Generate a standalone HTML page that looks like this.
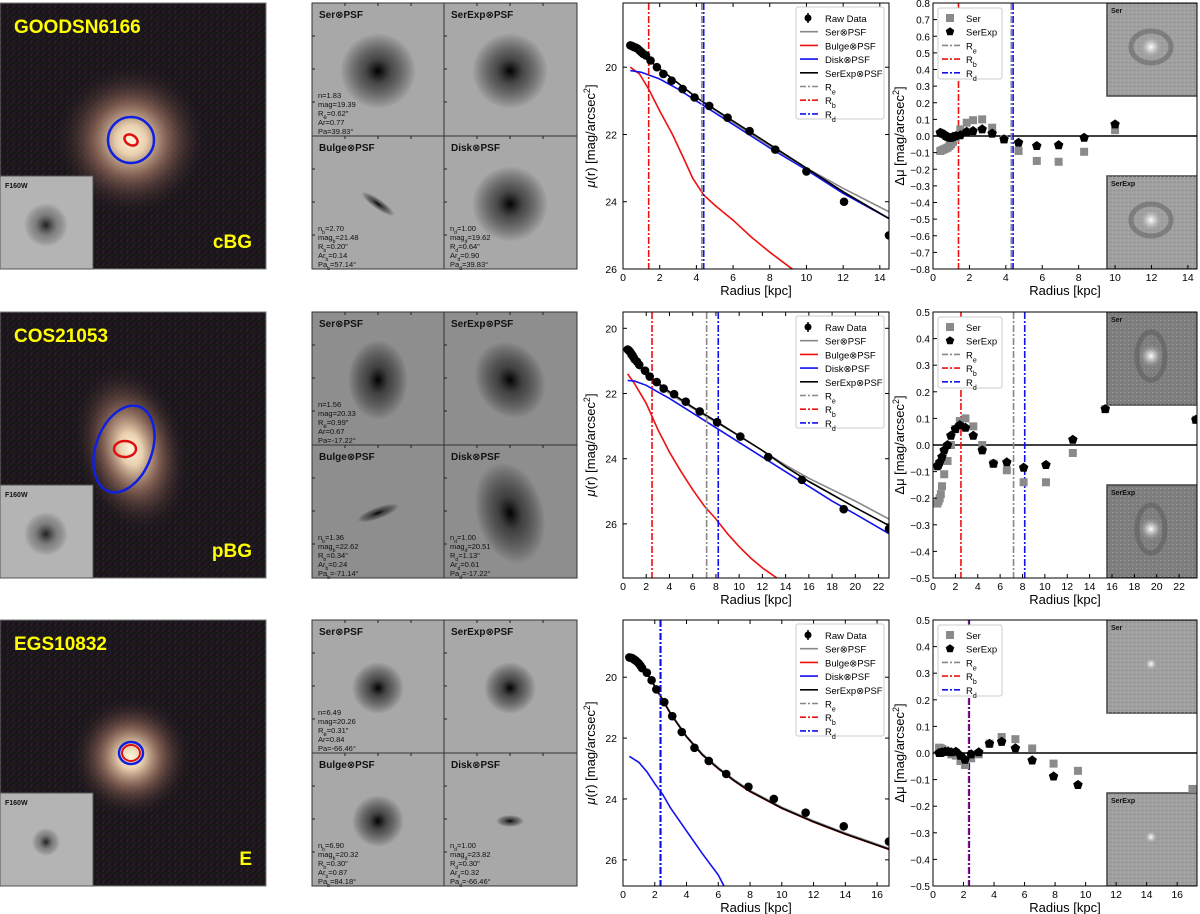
<!DOCTYPE html>
<html><head><meta charset="utf-8"><style>
body{margin:0;background:#fff;}
svg{display:block;font-family:"Liberation Sans","DejaVu Sans",sans-serif;}
</style></head><body>
<svg id="fig" width="1200" height="914" viewBox="0 0 1200 914" xmlns="http://www.w3.org/2000/svg">
<defs>
<radialGradient id="glow1"><stop offset="0" stop-color="#fff6dc"/><stop offset="0.2" stop-color="#e8cfae"/><stop offset="0.5" stop-color="#9a7060" stop-opacity="0.75"/><stop offset="1" stop-color="#2a1a20" stop-opacity="0"/></radialGradient>
<radialGradient id="blobDark"><stop offset="0" stop-color="#000"/><stop offset="0.35" stop-color="#222" stop-opacity="0.7"/><stop offset="1" stop-color="#000" stop-opacity="0"/></radialGradient>
<radialGradient id="blobSoft"><stop offset="0" stop-color="#111" stop-opacity="0.9"/><stop offset="0.5" stop-color="#333" stop-opacity="0.4"/><stop offset="1" stop-color="#000" stop-opacity="0"/></radialGradient>
<radialGradient id="resBlob"><stop offset="0" stop-color="#fff"/><stop offset="0.4" stop-color="#ddd" stop-opacity="0.6"/><stop offset="1" stop-color="#888" stop-opacity="0"/></radialGradient>
<pattern id="noise" width="6" height="6" patternUnits="userSpaceOnUse"><rect width="6" height="6" fill="#1b1519"/><rect x="0" y="0" width="2" height="2" fill="#2a1c26"/><rect x="3" y="2" width="2" height="2" fill="#152018"/><rect x="1" y="4" width="2" height="2" fill="#241c2c"/></pattern>
<pattern id="rnoise" width="4" height="4" patternUnits="userSpaceOnUse"><rect width="4" height="4" fill="none"/><rect x="0" y="0" width="1" height="1" fill="#bbb" opacity="0.5"/><rect x="2" y="2" width="1" height="1" fill="#666" opacity="0.4"/></pattern>
</defs>
</svg>
<script>
// ---------- data ----------
const row1Data=[[0.4,19.35],[0.5,19.37],[0.6,19.4],[0.7,19.42],[0.8,19.45],[0.9,19.5],[1.0,19.55],[1.1,19.6],[1.25,19.65],[1.5,19.8],[1.85,20.0],[2.2,20.2],[2.65,20.4],[3.25,20.65],[3.9,20.9],[4.7,21.15],[5.7,21.5],[6.9,21.9],[8.3,22.45],[10.0,23.1],[12.05,24.0],[14.5,25.0]];
const row1Ser=[[0.4,19.3],[2,20.05],[4,20.9],[6,21.65],[8,22.35],[10,23.0],[12,23.6],[14.5,24.3]];
const row1SerExp=[[0.4,19.35],[2,20.05],[4,20.9],[6,21.6],[8,22.3],[10,23.0],[12,23.7],[14.5,24.5]];
const row1Disk=[[0.4,20.1],[1,20.15],[2,20.35],[3,20.65],[4,21.0],[6,21.7],[8,22.4],[10,23.05],[12,23.75],[14.5,24.5]];
const row1Bulge=[[0.4,20.0],[0.9,20.2],[1.4,20.65],[2,21.3],[2.7,22.0],[3.3,22.7],[3.8,23.3],[4.4,23.8],[5,24.1],[6,24.55],[7,25.05],[8,25.5],[9.1,25.95],[9.5,26.1]];
const row1Radii=[4.3,1.4,4.4];
const row1ResSer=[[0.4,-0.09],[0.5,-0.085],[0.6,-0.08],[0.7,-0.075],[0.8,-0.07],[0.9,-0.06],[1.0,-0.05],[1.1,-0.035],[1.25,-0.01],[1.5,0.04],[1.85,0.08],[2.2,0.095],[2.7,0.1],[3.25,0.05],[3.9,-0.02],[4.7,-0.09],[5.7,-0.15],[6.9,-0.155],[8.3,-0.095],[10.0,0.035]];
const row1ResSerExp=[[0.4,0.02],[0.5,0.015],[0.6,0.01],[0.7,0.0],[0.8,-0.005],[0.9,-0.01],[1.0,-0.01],[1.1,-0.005],[1.25,0.0],[1.5,0.005],[1.85,0.025],[2.2,0.03],[2.7,0.04],[3.25,0.015],[3.9,-0.02],[4.7,-0.04],[5.7,-0.06],[6.9,-0.055],[8.3,-0.01],[10.0,0.07]];

const row2Data=[[0.4,20.65],[0.5,20.68],[0.6,20.72],[0.7,20.77],[0.8,20.82],[0.9,20.88],[1.0,20.95],[1.2,21.02],[1.4,21.12],[1.9,21.3],[2.3,21.48],[2.9,21.65],[3.5,21.85],[4.4,22.02],[5.4,22.25],[6.6,22.55],[8.1,22.88],[10.1,23.32],[12.5,23.95],[15.4,24.65],[19.0,25.55],[22.9,26.15]];
const row2Ser=[[0.4,20.85],[2,21.45],[4,22.0],[6,22.45],[8,22.88],[10,23.3],[12,23.75],[14,24.2],[16,24.6],[18,24.95],[20,25.3],[22.9,25.85]];
const row2SerExp=[[0.4,20.7],[2,21.4],[4,21.95],[6,22.42],[8,22.85],[10,23.3],[12,23.75],[14,24.25],[16,24.7],[18,25.1],[20,25.5],[22.9,26.05]];
const row2Disk=[[0.4,21.6],[1,21.62],[2,21.75],[3,21.95],[4,22.15],[6,22.6],[8,23.05],[10,23.5],[12,23.95],[14,24.4],[16,24.85],[18,25.3],[20,25.7],[22.9,26.3]];
const row2Bulge=[[0.4,21.4],[1,21.7],[2,22.3],[3,23.1],[4,23.8],[5,24.4],[6,24.95],[7,25.45],[8,25.85],[9,26.3],[10,26.7],[11,27.05],[12,27.35],[13.4,27.7]];
const row2Radii=[7.2,2.5,8.2];
const row2ResSer=[[0.4,-0.22],[0.5,-0.21],[0.6,-0.2],[0.7,-0.185],[0.8,-0.155],[1.0,-0.11],[1.3,-0.06],[1.6,0.0],[2.0,0.06],[2.4,0.09],[2.9,0.1],[3.6,0.07],[4.4,0.0],[5.4,-0.07],[6.6,-0.095],[8.1,-0.14],[10.1,-0.14],[12.5,-0.03],[15.4,0.135],[23.5,0.095]];
const row2ResSerExp=[[0.4,-0.08],[0.5,-0.075],[0.6,-0.065],[0.8,-0.045],[1.0,-0.02],[1.3,0.0],[1.6,0.035],[2.0,0.06],[2.4,0.075],[2.9,0.065],[3.6,0.035],[4.4,-0.02],[5.4,-0.07],[6.6,-0.065],[8.1,-0.085],[10.1,-0.075],[12.5,0.02],[15.4,0.135],[23.5,0.095]];

const row3Data=[[0.4,19.35],[0.5,19.36],[0.6,19.38],[0.7,19.42],[0.8,19.45],[0.9,19.5],[1.0,19.55],[1.1,19.62],[1.2,19.7],[1.5,19.85],[1.8,20.1],[2.1,20.4],[2.6,20.82],[3.1,21.28],[3.7,21.8],[4.5,22.32],[5.4,22.75],[6.5,23.18],[7.9,23.6],[9.5,24.0],[11.5,24.45],[13.9,24.9],[16.75,25.4]];
const row3Ser=[[0.4,19.33],[1,19.53],[1.5,19.83],[2,20.28],[2.5,20.73],[3,21.18],[4,21.93],[5,22.52],[6,22.97],[7,23.37],[8,23.72],[10,24.27],[12,24.72],[14,25.12],[16.75,25.62]];
const row3SerExp=[[0.4,19.35],[1,19.55],[1.5,19.85],[2,20.3],[2.5,20.75],[3,21.2],[4,21.95],[5,22.55],[6,23.0],[7,23.4],[8,23.75],[10,24.3],[12,24.75],[14,25.15],[16.75,25.65]];
const row3Disk=[[0.4,22.6],[1,22.8],[1.5,23.1],[2,23.5],[2.5,23.85],[3,24.3],[4,25.05],[5,25.8],[6,26.5],[6.4,26.9]];
const row3Bulge=[[0.4,19.35],[1,19.55],[1.5,19.86],[2,20.31],[2.5,20.76],[3,21.21],[4,21.96],[5,22.56],[6,23.01],[7,23.41],[8,23.76],[10,24.31],[12,24.76],[14,25.16],[16.75,25.66]];
const row3Radii=[2.33,2.35,2.38];
const row3ResSer=[[0.4,0.02],[0.5,0.018],[0.6,0.015],[0.8,0.01],[1.0,0.005],[1.2,-0.005],[1.5,-0.01],[1.8,-0.03],[2.1,-0.045],[2.5,-0.02],[3.0,-0.005],[3.7,0.035],[4.5,0.06],[5.4,0.052],[6.5,0.017],[7.9,-0.04],[9.5,-0.067],[17,-0.135]];
const row3ResSerExp=[[0.4,0.0],[0.5,0.0],[0.6,0.003],[0.8,0.005],[1.0,0.005],[1.2,0.003],[1.5,0.005],[1.8,-0.01],[2.1,-0.025],[2.5,-0.005],[3.0,0.003],[3.7,0.035],[4.5,0.042],[5.4,0.018],[6.5,-0.028],[7.9,-0.088],[9.5,-0.12]];

const galaxyNames=["GOODSN6166","COS21053","EGS10832"];
const galaxyClasses=["cBG","pBG","E"];
const serParams=[["n=1.83","mag=19.39","R<tspan baseline-shift='sub' font-size='6'>e</tspan>=0.62\"","Ar=0.77","Pa=39.83°"],["n=1.56","mag=20.33","R<tspan baseline-shift='sub' font-size='6'>e</tspan>=0.99\"","Ar=0.67","Pa=-17.22°"],["n=6.49","mag=20.26","R<tspan baseline-shift='sub' font-size='6'>e</tspan>=0.31\"","Ar=0.84","Pa=-66.46°"]];
const bulgeParams=[["2.70","21.48","0.20","0.14","57.14"],["1.36","22.62","0.34","0.24","-71.14"],["6.90","20.32","0.30","0.87","84.18"]];
const diskParams=[["1.00","19.62","0.64","0.90","39.83"],["1.00","20.51","1.13","0.61","-17.22"],["1.00","23.82","0.30","0.32","-66.46"]];

// ---------- layout ----------
const rows=[
 {top:3,data:row1Data,ser:row1Ser,serexp:row1SerExp,disk:row1Disk,bulge:row1Bulge,radii:row1Radii,rser:row1ResSer,rse:row1ResSerExp,
  pX:[0,14.5],pY:[18.09,26],pXt:[0,2,4,6,8,10,12,14],pYt:[20,22,24,26],rX:[0,14.5],rY:[-0.8,0.8],rXt:[0,2,4,6,8,10,12,14],resStep:0.1,bg:"#a8a8a8"},
 {top:312,data:row2Data,ser:row2Ser,serexp:row2SerExp,disk:row2Disk,bulge:row2Bulge,radii:row2Radii,rser:row2ResSer,rse:row2ResSerExp,
  pX:[0,22.9],pY:[19.5,27.66],pXt:[0,2,4,6,8,10,12,14,16,18,20,22],pYt:[20,22,24,26],rX:[0,23.6],rY:[-0.5,0.5],rXt:[0,2,4,6,8,10,12,14,16,18,20,22],resStep:0.1,bg:"#8e8e8e"},
 {top:620,data:row3Data,ser:row3Ser,serexp:row3SerExp,disk:row3Disk,bulge:row3Bulge,radii:row3Radii,rser:row3ResSer,rse:row3ResSerExp,
  pX:[0,16.75],pY:[18.12,26.86],pXt:[0,2,4,6,8,10,12,14,16],pYt:[20,22,24,26],rX:[0,17.3],rY:[-0.5,0.5],rXt:[0,2,4,6,8,10,12,14,16],resStep:0.1,bg:"#a8a8a8"}
];
const NS="http://www.w3.org/2000/svg";
const svg=document.getElementById('fig');
function el(tag,attrs,parent,text){const e=document.createElementNS(NS,tag);for(const k in attrs)e.setAttribute(k,attrs[k]);if(text!==undefined)e.innerHTML=text;(parent||svg).appendChild(e);return e;}
function scale(d,r){return v=>r[0]+(v-d[0])/(d[1]-d[0])*(r[1]-r[0]);}
function poly(pts,xs,ys){return pts.map(p=>xs(p[0]).toFixed(1)+","+ys(p[1]).toFixed(1)).join(" ");}

rows.forEach((R,i)=>{
 const T=R.top,B=T+266;
 // ---- galaxy image ----
 const g=el('g',{});
 
 
 el('rect',{x:0,y:T,width:266,height:266,fill:'url(#noise)',stroke:'#777','stroke-width':1},g);
 const cy=T+137;
 const gr=i===1?[55,85]:(i===0?[75,75]:[60,60]);
 el('ellipse',{cx:131,cy:cy,rx:gr[0],ry:gr[1],fill:'url(#glow1)',transform:i===1?`rotate(-15 131 ${cy})`:''},g);
 if(i===0){el('ellipse',{cx:131,cy:cy,rx:23,ry:23,fill:'none',stroke:'#1020e0','stroke-width':2.5},g);el('ellipse',{cx:131,cy:cy,rx:7,ry:5,fill:'none',stroke:'#e01010','stroke-width':2.5,transform:`rotate(30 131 ${cy})`},g);}
 if(i===1){el('ellipse',{cx:124,cy:cy,rx:28,ry:45,fill:'none',stroke:'#1020e0','stroke-width':2.5,transform:`rotate(20 124 ${cy})`},g);el('ellipse',{cx:125,cy:cy,rx:11,ry:8,fill:'none',stroke:'#e01010','stroke-width':2.5},g);}
 if(i===2){el('ellipse',{cx:131,cy:cy-4,rx:12,ry:11,fill:'none',stroke:'#1020e0','stroke-width':2.5},g);el('ellipse',{cx:131,cy:cy-4,rx:9,ry:8,fill:'none',stroke:'#e01010','stroke-width':2},g);}
 const nm=el('text',{x:14,y:T+30,fill:'#ffff00','font-size':19,'font-weight':'bold'},g,galaxyNames[i]);
 
 
 const cl=el('text',{x:252,y:T+245,fill:'#ffff00','font-size':19,'font-weight':'bold','text-anchor':'end'},g,galaxyClasses[i]);
 
 
 el('rect',{x:0,y:T+173,width:93,height:93,fill:'#b4b4b4',stroke:'#555','stroke-width':1},g);
 el('circle',{cx:46,cy:T+222,r:i===2?14:22,fill:'url(#blobSoft)'},g);
 el('text',{x:5,y:T+185,'font-size':7,'font-weight':'bold',fill:'#111'},g,'F160W');

 // ---- model panel ----
 const m=el('g',{});
 
 
 el('rect',{x:312,y:T,width:265,height:266,fill:R.bg,stroke:'#333','stroke-width':1},m);
 el('line',{x1:444,y1:T,x2:444,y2:T+266,stroke:'#333'},m);
 el('line',{x1:312,y1:T+133,x2:577,y2:T+133,stroke:'#333'},m);
 const quads=[[312,T,'Ser⊗PSF'],[444,T,'SerExp⊗PSF'],[312,T+133,'Bulge⊗PSF'],[444,T+133,'Disk⊗PSF']];
 const blobR=i===2?[[26,26],[26,26],[26,26],[14,6]]:(i===0?[[38,38],[38,38],[20,5],[38,38]]:[[30,40],[34,40],[22,6],[34,52]]);
 const blobRot=[0,i===1?-30:0,i===0?35:(i===1?-20:-25),i===1?-15:0];
 quads.forEach((q,k)=>{
  const bx=q[0]+66,by=q[1]+68;
  el('ellipse',{cx:bx,cy:by,rx:blobR[k][0],ry:blobR[k][1],fill:'url(#blobDark)',transform:`rotate(${blobRot[k]} ${bx} ${by})`},m);
  el('text',{x:q[0]+7,y:q[1]+15,'font-size':10,'font-weight':'bold',fill:'#111'},m,q[2]);
  for(let t=1;t<4;t++){el('line',{x1:q[0]+t*33,y1:q[1],x2:q[0]+t*33,y2:q[1]+3,stroke:'#222'},m);el('line',{x1:q[0],y1:q[1]+t*33,x2:q[0]+3,y2:q[1]+t*33,stroke:'#222'},m);}
 });
 const sub=(s)=>`<tspan baseline-shift='sub' font-size='5'>${s}</tspan>`;
 serParams[i].forEach((s,k)=>el('text',{x:318,y:T+95+k*9,'font-size':7.5,fill:'#111'},m,s));
 const bp=bulgeParams[i],dp=diskParams[i];
 [`n${sub('b')}=${bp[0]}`,`mag${sub('b')}=${bp[1]}`,`R${sub('b')}=${bp[2]}"`,`Ar${sub('b')}=${bp[3]}`,`Pa${sub('b')}=${bp[4]}°`].forEach((s,k)=>el('text',{x:318,y:T+228+k*9,'font-size':7.5,fill:'#111'},m,s));
 [`n${sub('d')}=${dp[0]}`,`mag${sub('d')}=${dp[1]}`,`R${sub('d')}=${dp[2]}"`,`Ar${sub('d')}=${dp[3]}`,`Pa${sub('d')}=${dp[4]}°`].forEach((s,k)=>el('text',{x:450,y:T+228+k*9,'font-size':7.5,fill:'#111'},m,s));

 // ---- profile plot ----
 const px0=623,px1=889;
 const xs=scale(R.pX,[px0,px1]), ys=scale(R.pY,[T,B]);
 const p=el('g',{});
 
 
 el('clipPath',{id:'cp'+i},p);
 el('rect',{x:px0,y:T,width:px1-px0,height:266},p.lastChild);
 const pc=el('g',{'clip-path':`url(#cp${i})`},p);
 const curves=[[R.bulge,'#ee1111','bulge-curve'],[R.disk,'#1111ee','disk-curve'],[R.ser,'#888','ser-curve'],[R.serexp,'#000','serexp-curve']];
 curves.forEach(c=>{const l=el('polyline',{points:poly(c[0],xs,ys),fill:'none',stroke:c[1],'stroke-width':1.6},pc);
  
  });
 const rc=['#888','#ee1111','#1111ee'];
 R.radii.forEach((r,k)=>{const l=el('line',{x1:xs(r),y1:T,x2:xs(r),y2:B,stroke:rc[k],'stroke-width':1.6,'stroke-dasharray':'7,2,2,2'},pc);
  
  });
 R.data.forEach(d=>{const c=el('circle',{cx:xs(d[0]),cy:ys(d[1]),r:4.3,fill:'#000'},pc);
  
  });
 el('rect',{x:px0,y:T,width:px1-px0,height:266,fill:'none',stroke:'#000','stroke-width':1},p);
 R.pXt.forEach(t=>{const x=xs(t);el('line',{x1:x,y1:B,x2:x,y2:B-4,stroke:'#000'},p);el('line',{x1:x,y1:T,x2:x,y2:T+4,stroke:'#000'},p);el('text',{x:x,y:B+12,'font-size':10.5,'text-anchor':'middle'},p,t);});
 R.pYt.forEach(t=>{const y=ys(t);el('line',{x1:px0,y1:y,x2:px0+4,y2:y,stroke:'#000'},p);el('line',{x1:px1,y1:y,x2:px1-4,y2:y,stroke:'#000'},p);el('text',{x:px0-6,y:y+4,'font-size':10.5,'text-anchor':'end'},p,t);});
 el('text',{x:756,y:B+26,'font-size':13,'text-anchor':'middle'},p,'Radius [kpc]');
 el('text',{x:0,y:0,'font-size':13,'text-anchor':'middle',transform:`translate(595 ${T+133}) rotate(-90)`},p,'<tspan font-style="italic">μ</tspan>(r) [mag/arcsec<tspan baseline-shift="super" font-size="9">2</tspan>]');
 // legend
 const lg=el('g',{},p);
 
 
 el('rect',{x:796,y:T+4,width:88,height:112,fill:'#fff',stroke:'#ccc',rx:2},lg);
 const items=[['pt','#000','Raw Data'],['l','#888','Ser⊗PSF'],['l','#ee1111','Bulge⊗PSF'],['l','#1111ee','Disk⊗PSF'],['l','#000','SerExp⊗PSF'],['d','#888','R<tspan baseline-shift="sub" font-size="7">e</tspan>'],['d','#ee1111','R<tspan baseline-shift="sub" font-size="7">b</tspan>'],['d','#1111ee','R<tspan baseline-shift="sub" font-size="7">d</tspan>']];
 items.forEach((it,k)=>{const y=T+15+k*13.7;
  if(it[0]==='pt'){el('circle',{cx:808,cy:y,r:3.5,fill:'#000'},lg);el('line',{x1:808,y1:y-5,x2:808,y2:y+5,stroke:'#000','stroke-width':1.5},lg);}
  else el('line',{x1:800,y1:y,x2:818,y2:y,stroke:it[1],'stroke-width':1.6,'stroke-dasharray':it[0]==='d'?'6,2,2,2':''},lg);
  el('text',{x:825,y:y+4,'font-size':9.5},lg,it[2]);});

 // ---- residual plot ----
 const rx0=933,rx1=1197;
 const rxs=scale(R.rX,[rx0,rx1]), rys=scale(R.rY,[B,T]);
 const q=el('g',{});
 
 
 el('clipPath',{id:'cr'+i},q);
 el('rect',{x:rx0,y:T,width:rx1-rx0,height:266},q.lastChild);
 const qc=el('g',{'clip-path':`url(#cr${i})`},q);
 // insets
 [[T,'Ser'],[T+173,'SerExp']].forEach((ins,k)=>{
  const ig=el('g',{},qc);
  
  
  el('rect',{x:1107,y:ins[0],width:93,height:93,fill:i===1?'#7e7e7e':'#a0a0a0',stroke:'#444','stroke-width':1.5},ig);
  el('rect',{x:1107,y:ins[0],width:93,height:93,fill:'url(#rnoise)'},ig);
  if(i<2){el('ellipse',{cx:1151,cy:ins[0]+44,rx:i===1?14:20,ry:i===1?24:16,fill:'none',stroke:'#555','stroke-width':5,opacity:0.45},ig);}
  el('circle',{cx:1151,cy:ins[0]+44,r:i===2?7:12,fill:'url(#resBlob)'},ig);
  el('text',{x:1111,y:ins[0]+10,'font-size':7,'font-weight':'bold',fill:'#111'},ig,ins[1]);
 });
 el('line',{x1:rx0,y1:rys(0),x2:rx1,y2:rys(0),stroke:'#000','stroke-width':1.6},qc);
 R.radii.forEach((r,k)=>{const l=el('line',{x1:rxs(r),y1:T,x2:rxs(r),y2:B,stroke:rc[k],'stroke-width':1.6,'stroke-dasharray':'7,2,2,2'},qc);
  
  });
 R.rser.forEach(d=>{const s=el('rect',{x:rxs(d[0])-4,y:rys(d[1])-4,width:8,height:8,fill:'#8a8a8a'},qc);
  
  });
 const pent=(cx,cy,r)=>{let a=[];for(let k=0;k<5;k++){const t=-Math.PI/2+k*2*Math.PI/5;a.push((cx+r*Math.cos(t)).toFixed(1)+','+(cy+r*Math.sin(t)).toFixed(1));}return a.join(' ');};
 R.rse.forEach(d=>{const s=el('polygon',{points:pent(rxs(d[0]),rys(d[1]),5),fill:'#000'},qc);
  
  });
 el('rect',{x:rx0,y:T,width:rx1-rx0,height:266,fill:'none',stroke:'#000','stroke-width':1},q);
 R.rXt.forEach(t=>{const x=rxs(t);el('line',{x1:x,y1:B,x2:x,y2:B-4,stroke:'#000'},q);el('text',{x:x,y:B+12,'font-size':10.5,'text-anchor':'middle'},q,t);});
 const nT=Math.round((R.rY[1]-R.rY[0])/R.resStep);
 for(let k=0;k<=nT;k++){const v=R.rY[0]+k*R.resStep,y=rys(v);el('line',{x1:rx0,y1:y,x2:rx0+4,y2:y,stroke:'#000'},q);
  el('text',{x:rx0-3,y:y+4,'font-size':10,'text-anchor':'end'},q,(Math.abs(v)<1e-9?'0.0':v.toFixed(1).replace('-','−')));}
 el('text',{x:1065,y:B+26,'font-size':13,'text-anchor':'middle'},q,'Radius [kpc]');
 el('text',{x:0,y:0,'font-size':13,'text-anchor':'middle',transform:`translate(904 ${T+133}) rotate(-90)`},q,'Δμ [mag/arcsec<tspan baseline-shift="super" font-size="9">2</tspan>]');
 const rl=el('g',{},q);
 
 
 el('rect',{x:938,y:T+5,width:64,height:71,fill:'#fff',stroke:'#ccc',rx:2},rl);
 const ritems=[['s','#8a8a8a','Ser'],['p','#000','SerExp'],['d','#888','R<tspan baseline-shift="sub" font-size="7">e</tspan>'],['d','#ee1111','R<tspan baseline-shift="sub" font-size="7">b</tspan>'],['d','#1111ee','R<tspan baseline-shift="sub" font-size="7">d</tspan>']];
 ritems.forEach((it,k)=>{const y=T+15+k*13.7;
  if(it[0]==='s')el('rect',{x:946,y:y-4,width:8,height:8,fill:it[1]},rl);
  else if(it[0]==='p')el('polygon',{points:pent(950,y,4.5),fill:'#000'},rl);
  else el('line',{x1:942,y1:y,x2:960,y2:y,stroke:it[1],'stroke-width':1.6,'stroke-dasharray':'6,2,2,2'},rl);
  el('text',{x:966,y:y+4,'font-size':9.5},rl,it[2]);});
});
</script>
</body></html>
